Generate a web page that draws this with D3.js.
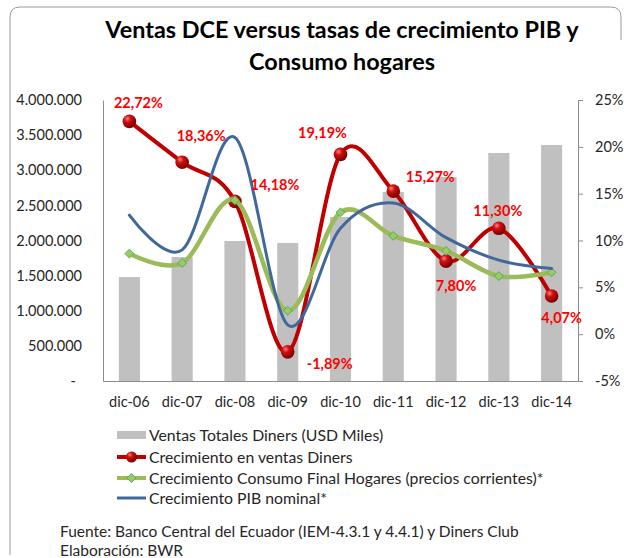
<!DOCTYPE html>
<html>
<head>
<meta charset="utf-8">
<script src="https://cdn.jsdelivr.net/npm/d3@7"></script>
<style>
  html, body { margin: 0; padding: 0; background: #fff; }
  svg { display: block; }
  text { font-family: Lato, "Open Sans", "Liberation Sans", sans-serif; }
</style>
</head>
<body>
<svg id="chart" width="624" height="558"></svg>
<script>
// ---- data ----
const categories = ["dic-06","dic-07","dic-08","dic-09","dic-10","dic-11","dic-12","dic-13","dic-14"];
const ventasTotales = [1480000, 1765000, 1993000, 1964000, 2335000, 2690000, 2904000, 3246000, 3360000];
const crecimientoVentas = [22.72, 18.36, 14.18, -1.89, 19.19, 15.27, 7.80, 11.30, 4.07];
const crecimientoConsumo = [8.6, 7.6, 14.3, 2.5, 13.0, 10.5, 8.9, 6.2, 6.6];
const crecimientoPIB = [12.7, 9.0, 21.0, 1.0, 11.3, 14.0, 10.3, 7.9, 7.0];
const ventasLabels = ["22,72%","18,36%","14,18%","-1,89%","19,19%","15,27%","7,80%","11,30%","4,07%"];
const leftTicks = [0, 500000, 1000000, 1500000, 2000000, 2500000, 3000000, 3500000, 4000000];
const rightTicks = [-5, 0, 5, 10, 15, 20, 25];
const legendLabels = [
  "Ventas Totales Diners (USD Miles)",
  "Crecimiento en ventas Diners",
  "Crecimiento Consumo Final Hogares (precios corrientes)*",
  "Crecimiento PIB nominal*"
];
const titleLines = ["Ventas DCE versus tasas de crecimiento PIB y", "Consumo hogares"];
const footerLines = ["Fuente: Banco Central del Ecuador (IEM-4.3.1 y 4.4.1) y Diners Club", "Elaboración: BWR"];
// label placement offsets (pixels, relative to data point)
const labelOffsets = [[9,-19],[19,-26],[40,-17],[42,12],[-18,-22],[37,-14],[10,25],[-1,-18],[10,22]];

// ---- layout ----
const svg = d3.select("#chart");
const plot = { left: 103, right: 578, top: 100, bottom: 381 };
const textColor = "#262626";

const defs = svg.append("defs");
const grad = defs.append("radialGradient").attr("id", "sphere")
  .attr("cx", "35%").attr("cy", "30%").attr("r", "70%");
grad.append("stop").attr("offset", "0%").attr("stop-color", "#ff8080");
grad.append("stop").attr("offset", "35%").attr("stop-color", "#d01010");
grad.append("stop").attr("offset", "100%").attr("stop-color", "#7a0000");

// frame (rounded, right side cut off)
svg.append("path")
  .attr("d", "M10,555 L10,17 Q10,7 20,7 L611,7 Q621,7 621,17 L621,40")
  .attr("fill", "none").attr("stroke", "#9a9a9a").attr("stroke-width", 1);

// title
svg.append("g").selectAll("text").data(titleLines).join("text")
  .attr("x", 342).attr("y", (d, i) => 38 + i * 32)
  .attr("text-anchor", "middle")
  .attr("font-size", 23.4).attr("font-weight", "bold").attr("fill", "#000")
  .text(d => d);

const x = d3.scaleBand().domain(categories).range([plot.left, plot.right])
  .paddingInner(0.6).paddingOuter(0.3);
const yL = d3.scaleLinear().domain([0, 4000000]).range([plot.bottom, plot.top]);
const yR = d3.scaleLinear().domain([-5, 25]).range([plot.bottom, plot.top]);
const cx = c => x(c) + x.bandwidth() / 2;

// bars
svg.append("g").selectAll("rect").data(ventasTotales).join("rect")
  .attr("x", (d, i) => x(categories[i]))
  .attr("y", d => yL(d))
  .attr("width", x.bandwidth())
  .attr("height", d => plot.bottom - yL(d))
  .attr("fill", "#c0c0c0");

// axes
const thousands = d3.formatLocale({ decimal: ",", thousands: ".", grouping: [3], currency: ["$", ""] }).format(",.0f");
const leftAxis = svg.append("g").attr("transform", `translate(${plot.left},0)`)
  .call(d3.axisLeft(yL).tickValues(leftTicks).tickSize(0).tickPadding(21)
    .tickFormat(d => d === 0 ? "-" : thousands(d)));
leftAxis.select(".domain").attr("stroke", "#8c8c8c");
leftAxis.selectAll("text").attr("font-size", 14.5).attr("fill", textColor)
  .attr("dx", d => d === 0 ? -6 : 0);

const rightAxis = svg.append("g").attr("transform", `translate(${plot.right},0)`)
  .call(d3.axisRight(yR).tickValues(rightTicks).tickSize(5).tickPadding(12)
    .tickSizeOuter(0).tickFormat(d => d + "%"));
rightAxis.selectAll(".domain, line").attr("stroke", "#8c8c8c");
rightAxis.selectAll("text").attr("font-size", 14.5).attr("fill", textColor);

const bottomAxis = svg.append("g").attr("transform", `translate(0,${plot.bottom})`)
  .call(d3.axisBottom(x).tickSize(0).tickPadding(16));
bottomAxis.select(".domain").attr("stroke", "#8c8c8c");
bottomAxis.selectAll("text").attr("font-size", 14.5).attr("fill", textColor);

// lines
const curve = d3.curveCardinal.tension(0);
const lineR = d3.line().x((d, i) => cx(categories[i])).y(d => yR(d)).curve(curve);

svg.append("path").datum(crecimientoVentas).attr("d", lineR)
  .attr("fill", "none").attr("stroke", "#c00000").attr("stroke-width", 4).attr("stroke-linecap", "round");
svg.append("g").selectAll("circle").data(crecimientoVentas).join("circle")
  .attr("cx", (d, i) => cx(categories[i])).attr("cy", d => yR(d)).attr("r", 6.8)
  .attr("fill", "url(#sphere)");

svg.append("path").datum(crecimientoConsumo).attr("d", lineR)
  .attr("fill", "none").attr("stroke", "#9bbb59").attr("stroke-width", 4.5).attr("stroke-linecap", "round");
const diamond = d3.symbol().type(d3.symbolDiamond2).size(50);
svg.append("g").selectAll("path").data(crecimientoConsumo).join("path")
  .attr("d", diamond)
  .attr("transform", (d, i) => `translate(${cx(categories[i])},${yR(d)})`)
  .attr("fill", "#9bc96a").attr("stroke", "#4fb04a").attr("stroke-width", 1);

svg.append("path").datum(crecimientoPIB).attr("d", lineR)
  .attr("fill", "none").attr("stroke", "#41689b").attr("stroke-width", 3).attr("stroke-linecap", "round");

// data labels
svg.append("g").selectAll("text").data(crecimientoVentas).join("text")
  .attr("x", (d, i) => cx(categories[i]) + labelOffsets[i][0])
  .attr("y", (d, i) => yR(d) + labelOffsets[i][1])
  .attr("dy", "0.36em")
  .attr("text-anchor", "middle")
  .attr("font-size", 14.5).attr("font-weight", "bold").attr("fill", "#ff0000")
  .text((d, i) => ventasLabels[i]);

// legend
const legend = svg.append("g");
const ly = [435, 457, 478, 498];
const sx0 = 117, sx1 = 146, smid = 131.5;
legend.append("rect").attr("x", sx0).attr("y", ly[0] - 4).attr("width", sx1 - sx0).attr("height", 8).attr("fill", "#c0c0c0");
legend.append("line").attr("x1", sx0).attr("x2", sx1).attr("y1", ly[1]).attr("y2", ly[1])
  .attr("stroke", "#c00000").attr("stroke-width", 4);
legend.append("circle").attr("cx", smid).attr("cy", ly[1]).attr("r", 5.5).attr("fill", "url(#sphere)");
legend.append("line").attr("x1", sx0).attr("x2", sx1).attr("y1", ly[2]).attr("y2", ly[2])
  .attr("stroke", "#9bbb59").attr("stroke-width", 4);
legend.append("path").attr("d", diamond).attr("transform", `translate(${smid},${ly[2]})`)
  .attr("fill", "#9bc96a").attr("stroke", "#4fb04a").attr("stroke-width", 1);
legend.append("line").attr("x1", sx0).attr("x2", sx1).attr("y1", ly[3]).attr("y2", ly[3])
  .attr("stroke", "#41689b").attr("stroke-width", 3);
legend.selectAll("text.lg").data(legendLabels).join("text").attr("class", "lg")
  .attr("x", 149).attr("y", (d, i) => ly[i]).attr("dy", "0.36em")
  .attr("font-size", 15.8).attr("fill", textColor).text(d => d);

// footer
svg.append("g").selectAll("text").data(footerLines).join("text")
  .attr("x", 60).attr("y", (d, i) => 531 + i * 19).attr("dy", "0.36em")
  .attr("font-size", 15.5).attr("fill", textColor).text(d => d);
</script>
</body>
</html>
